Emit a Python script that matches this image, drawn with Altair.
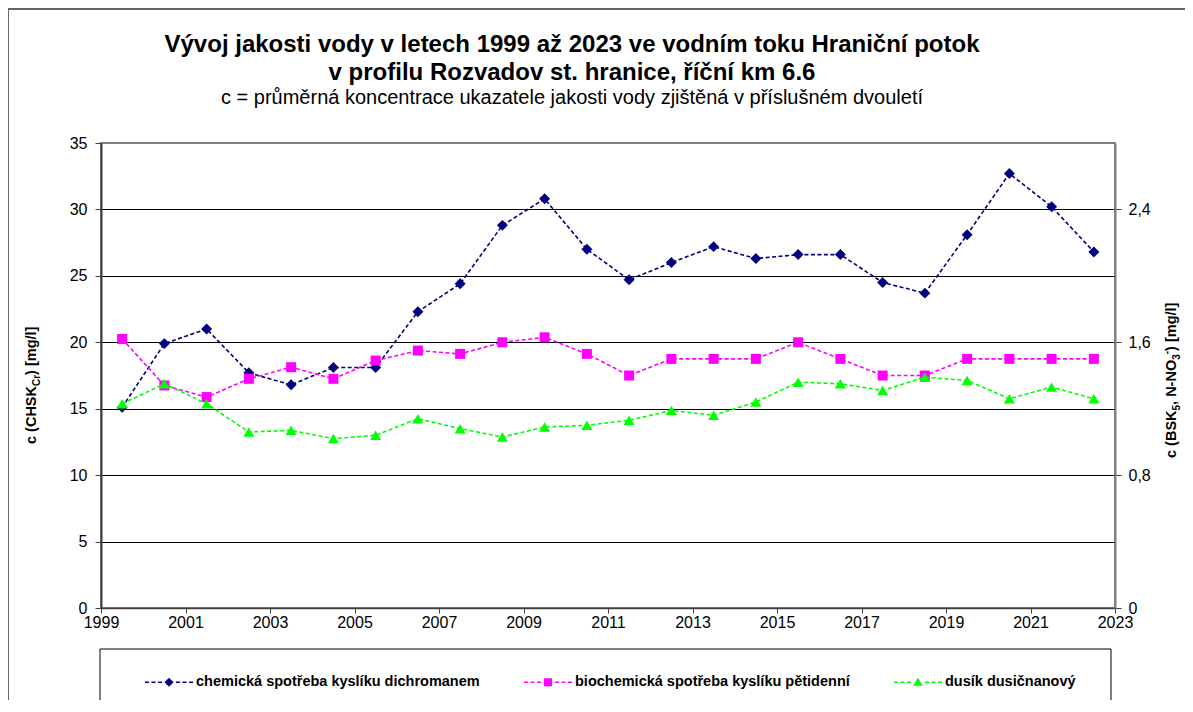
import altair as alt
import pandas as pd

# ---------------- data ----------------
years = [1999.5, 2000.5, 2001.5, 2002.5, 2003.5, 2004.5, 2005.5, 2006.5,
         2007.5, 2008.5, 2009.5, 2010.5, 2011.5, 2012.5, 2013.5, 2014.5,
         2015.5, 2016.5, 2017.5, 2018.5, 2019.5, 2020.5, 2021.5, 2022.5]
chsk = [15.1, 19.9, 21.0, 17.7, 16.8, 18.1, 18.1, 22.3, 24.4, 28.8, 30.8, 27.0,
        24.7, 26.0, 27.2, 26.3, 26.6, 26.6, 24.5, 23.7, 28.1, 32.7, 30.2, 26.8]
bsk = [1.62, 1.34, 1.27, 1.38, 1.45, 1.38, 1.49, 1.55, 1.53, 1.60, 1.63, 1.53,
       1.40, 1.50, 1.50, 1.50, 1.60, 1.50, 1.40, 1.40, 1.50, 1.50, 1.50, 1.50]
no3 = [1.23, 1.35, 1.23, 1.06, 1.07, 1.02, 1.04, 1.14, 1.08, 1.03, 1.09, 1.10,
       1.13, 1.19, 1.16, 1.24, 1.36, 1.35, 1.31, 1.39, 1.37, 1.26, 1.33, 1.26]

names = ["chemická spotřeba kyslíku dichromanem",
         "biochemická spotřeba kyslíku pětidenní",
         "dusík dusičnanový"]
colors = ["#000080", "#FF00FF", "#00FF00"]

x_ticks = [1999, 2001, 2003, 2005, 2007, 2009, 2011, 2013, 2015, 2017, 2019, 2021, 2023]
left_ticks = [0, 5, 10, 15, 20, 25, 30, 35]
right_ticks = [0, 0.8, 1.6, 2.4]

title1 = "Vývoj jakosti vody v letech 1999 až 2023 ve vodním toku Hraniční potok"
title2 = "v profilu Rozvadov st. hranice, říční km 6.6"
subtitle = "c = průměrná koncentrace ukazatele jakosti vody zjištěná v příslušném dvouletí"

df_c = pd.DataFrame({"year": years, "value": chsk})
df_b = pd.DataFrame({"year": years, "value": bsk})
df_n = pd.DataFrame({"year": years, "value": no3})
df_leg = pd.DataFrame({"series": names})
one = pd.DataFrame({"k": [0]})

FONT = "Liberation Sans"
TICK_FS = 16

# ---------------- scales / axes ----------------
x_enc = alt.X("year:Q",
              scale=alt.Scale(domain=[1999, 2023], nice=False, zero=False),
              axis=alt.Axis(values=x_ticks, format="d", title=None, grid=False,
                            labelFont=FONT, labelFontSize=TICK_FS, labelColor="black",
                            tickSize=5, tickColor="#404040", labelPadding=1,
                            domainColor="#404040", domainWidth=1.5, labelFlush=False))

yl_enc = alt.Y("value:Q",
               scale=alt.Scale(domain=[0, 35], nice=False),
               axis=alt.Axis(values=left_ticks, title=None, orient="left",
                             grid=True,
                             gridColor=alt.condition("datum.value >= 35",
                                                     alt.value("#808080"),
                                                     alt.value("#000000")),
                             gridWidth=1, labelFont=FONT, labelFontSize=TICK_FS,
                             labelColor="black", tickSize=6, tickColor="#404040",
                             labelPadding=8, domainColor="#404040", domainWidth=2))

yr_enc = alt.Y("value:Q",
               scale=alt.Scale(domain=[0, 2.8], nice=False),
               axis=alt.Axis(values=right_ticks, title=None, orient="right",
                             grid=False, labelFont=FONT, labelFontSize=TICK_FS,
                             labelColor="black", tickSize=6, tickColor="#404040",
                             labelPadding=7, domainColor="#808080", domainWidth=2,
                             labelExpr="datum.value == 0 ? '0' : replace(format(datum.value, '.1f'), '.', ',')"))

dash = [4, 2.5]

line_c = alt.Chart(df_c).mark_line(color=colors[0], strokeDash=dash, strokeWidth=1.6).encode(x=x_enc, y=yl_enc)
pts_c = alt.Chart(df_c).mark_point(shape="diamond", filled=True, color=colors[0], size=120, opacity=1).encode(x=x_enc, y=yl_enc)
left = alt.layer(line_c, pts_c)

line_b = alt.Chart(df_b).mark_line(color=colors[1], strokeDash=dash, strokeWidth=1.6).encode(x=x_enc, y=yr_enc)
pts_b = alt.Chart(df_b).mark_point(shape="square", filled=True, color=colors[1], size=100, opacity=1).encode(x=x_enc, y=yr_enc)
line_n = alt.Chart(df_n).mark_line(color=colors[2], strokeDash=dash, strokeWidth=1.6).encode(x=x_enc, y=yr_enc)
pts_n = alt.Chart(df_n).mark_point(shape="triangle-up", filled=True, color=colors[2], size=120, opacity=1).encode(x=x_enc, y=yr_enc)
right = alt.layer(line_b, pts_b, line_n, pts_n)


# ---------------- legend (real Altair legend, custom symbols) ----------------
def legend_path(marker):
    h = 0.033
    segs = [(-1.0, -0.833), (-0.729, -0.562), (-0.458, -0.292),
            (0.292, 0.458), (0.562, 0.729), (0.833, 1.0)]
    p = "".join(f"M{a},{-h}H{b}V{h}H{a}Z" for a, b in segs)
    return p + marker


shapes = [legend_path("M-0.19,0L0,-0.19L0.19,0L0,0.19Z"),
          legend_path("M-0.17,-0.17H0.17V0.17H-0.17Z"),
          legend_path("M-0.2,0.15L0,-0.19L0.2,0.15Z")]

leg_props = dict(orient="none", legendX=44, legendY=515, direction="horizontal",
                 columns=3, title=None, labelFont=FONT, labelFontSize=14.5,
                 labelFontWeight="bold", labelColor="black", labelLimit=1000,
                 symbolSize=48 * 48, symbolOpacity=1, symbolStrokeWidth=0,
                 labelOffset=3, columnPadding=44, padding=0)

legend_layer = alt.Chart(df_leg).mark_point(filled=True, opacity=0).encode(
    x=alt.value(0), y=alt.value(0),
    color=alt.Color("series:N", scale=alt.Scale(domain=names, range=colors),
                    legend=alt.Legend(**leg_props)),
    shape=alt.Shape("series:N", scale=alt.Scale(domain=names, range=shapes),
                    legend=alt.Legend(**leg_props)),
)

# ---------------- frames ----------------
outer_frame = alt.Chart(one).mark_rect(fill="transparent", stroke="#666666", strokeWidth=2).encode(
    x=alt.value(-93), x2=alt.value(1150), y=alt.value(-134), y2=alt.value(700))
legend_box = alt.Chart(one).mark_rect(fill="transparent", stroke="#000000", strokeWidth=1).encode(
    x=alt.value(-1), x2=alt.value(1010), y=alt.value(506), y2=alt.value(640))


# ---------------- text ----------------
def text_layer(txt, x, y, size, weight="normal", align="center", baseline="middle", angle=0, dx=0, dy=0):
    return alt.Chart(one).mark_text(text=txt, font=FONT, fontSize=size, fontWeight=weight,
                                    align=align, baseline=baseline, angle=angle,
                                    dx=dx, dy=dy, color="black").encode(
        x=alt.value(x), y=alt.value(y))


# Arial-bold advance widths (per 1000 em) for the characters of the rotated axis titles
W = {"c": 556, " ": 278, "(": 333, ")": 333, "C": 722, "H": 722, "S": 667, "K": 722,
     "r": 389, "[": 333, "]": 333, "m": 889, "g": 611, "/": 278, "l": 278, "B": 722,
     "5": 556, ",": 278, "N": 722, "-": 333, "O": 778, "3": 556}


def rotated_title(pieces, x, y):
    layers = []
    offset = 0.0
    for txt, size, shift in pieces:
        layers.append(text_layer(txt, x, y, size, weight="bold", align="left",
                                 baseline="alphabetic", angle=270, dx=offset, dy=shift))
        offset += sum(W[ch] for ch in txt) * size / 1000.0
    return layers


texts = [
    text_layer(title1, 471, -98, 24, weight="bold"),
    text_layer(title2, 471, -70, 24, weight="bold"),
    text_layer(subtitle, 471, -45, 20),
]
texts += rotated_title([("c (CHSK", 14.5, 0), ("Cr", 10, 4), (") [mg/l]", 14.5, 0)], -65, 301)
texts += rotated_title([("c (BSK", 14.5, 0), ("5", 10, 4), (", N-NO", 14.5, 0),
                        ("3", 10, 4), ("-", 10, -6), (") [mg/l]", 14.5, 0)], 1075, 315)

chart = alt.layer(outer_frame, legend_box, left, right, legend_layer, *texts).resolve_scale(
    y="independent"
).properties(
    width=1014, height=465,
    autosize=alt.AutoSizeParams(type="none"),
    padding={"left": 93, "top": 135, "right": 70, "bottom": 92},
    background="white",
).configure_view(stroke="#808080", strokeWidth=2)

chart.save("out.html", embed_options={"renderer": "svg", "actions": False})
